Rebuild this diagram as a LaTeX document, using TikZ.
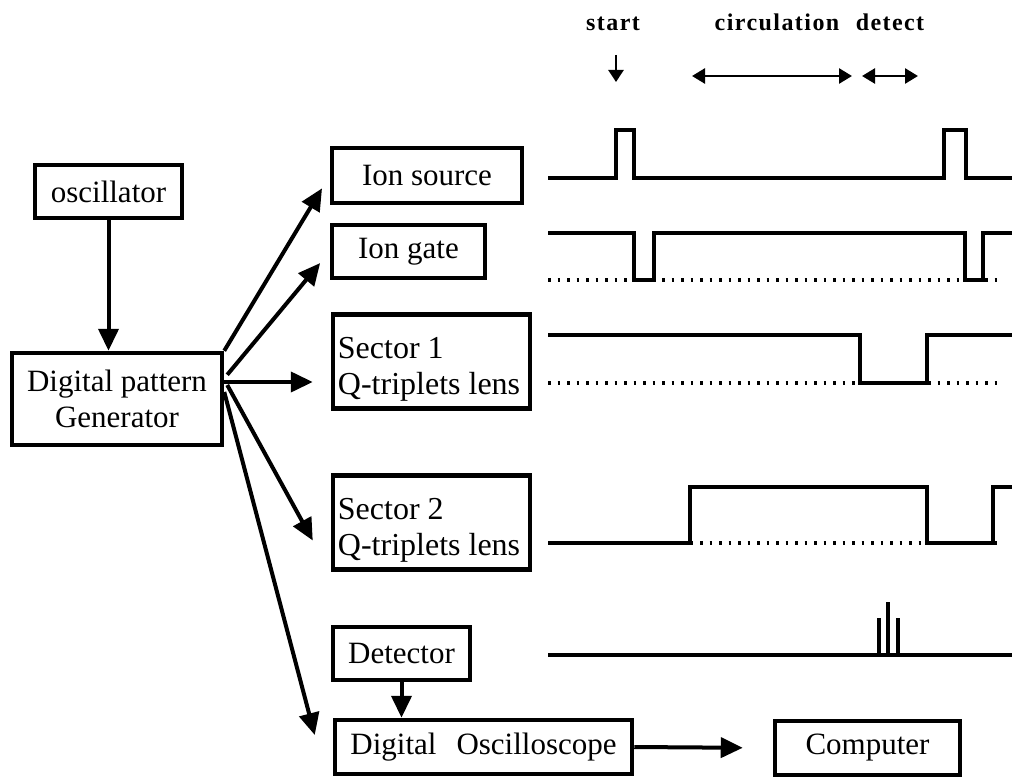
\documentclass[tikz,border=0pt]{standalone}
\usepackage{fontspec}
\setmainfont{Liberation Serif}
\newfontfamily\lblfont[LetterSpace=6]{Liberation Serif}
\usetikzlibrary{arrows.meta,calc}
\begin{document}
\begin{tikzpicture}[x=1pt,y=-1pt,
  box/.style={draw,line width=4.5pt,inner sep=0pt,font=\fontsize{31}{36}\selectfont},
  sbox/.style={draw,line width=4.5pt,inner sep=0pt,minimum width=197pt,minimum height=94pt},
  stext/.style={inner sep=0pt,anchor=west,align=left,font=\fontsize{32}{36}\selectfont},
  arr/.style={line width=4pt,-{Triangle[length=22pt,width=20pt]}},
  small/.style={line width=2.6pt},
  lbl/.style={font=\lblfont\bfseries\fontsize{24}{28}\selectfont,anchor=base,inner sep=0pt},
  wave/.style={line width=4.5pt},
  dots/.style={line width=3.5pt,dash pattern=on 2.5pt off 7pt}]
\useasboundingbox[fill=white] (0,0) rectangle (1017,784);

% boxes
\node[box,minimum width=147pt,minimum height=53pt] (osc) at (108.5,191.5) {oscillator};
\node[box,minimum width=210pt,minimum height=92pt,align=center] (dpg) at (117,399) {Digital pattern\\Generator};
\node[box,minimum width=190pt,minimum height=55pt] (ion) at (427,175.5) {Ion source};
\node[box,minimum width=153pt,minimum height=53pt] (gate) at (408.5,251.5) {Ion gate};
\node[sbox] (s1) at (431.5,361.5) {};
\node[stext] (s1t) at ($(s1.west)+(7,8)$) {Sector 1\\Q-triplets lens};
\node[sbox] (s2) at (431.5,522.5) {};
\node[stext] (s2t) at ($(s2.west)+(7,8)$) {Sector 2\\Q-triplets lens};
\node[box,minimum width=137pt,minimum height=53pt] (det) at (401.5,653.5) {Detector};
\node[box,minimum width=297pt,minimum height=54pt] (do) at (483.5,747) {Digital\hspace{20pt}Oscilloscope};
\node[box,minimum width=185pt,minimum height=54pt] (comp) at (867.5,748) {Computer};

% connectors
\draw[arr] (osc.south) -- (osc.south |- dpg.north);
\draw[arr,shorten >=15pt] (dpg.north east) -- (ion.west);
\draw[arr,shorten >=15pt] ($(dpg.north east)+(3,24)$) -- (gate.west);
\draw[arr] ($(dpg.east)+(0,-17)$) -- ($(s1.west)+(-18,20.5)$);
\draw[arr] ($(dpg.east)+(3,-14)$) -- ($(s2.west)+(-18,18)$);
\draw[arr] ($(dpg.east)+(0,-7)$) -- ($(do.west)+(-18,-12)$);
\draw[arr] (det.south) -- (det.south |- do.north);
\draw[arr,shorten >=30pt] (do.east) -- (comp.west);

% phase labels
\node[lbl] (lstart) at (613,31) {start};
\node[lbl] (lcirc) at (777,31) {circulation};
\node[lbl] (ldet) at (890,31) {detect};
\coordinate (sa) at (616,55);
\coordinate (sb) at (616,82);
\coordinate (ca) at (692,76);
\coordinate (cb) at (852,76);
\coordinate (da) at (862,76);
\coordinate (db) at (918,76);
\draw[small,-{Triangle[length=12pt,width=15pt]}] (sa) -- (sb);
\draw[small,{Triangle[length=13pt,width=15pt]}-{Triangle[length=13pt,width=15pt]}] (ca) -- (cb);
\draw[small,{Triangle[length=13pt,width=15pt]}-{Triangle[length=13pt,width=15pt]}] (da) -- (db);

% waveforms
\draw[wave] (548,178) -- (616,178) -- (616,130) -- (634,130) -- (634,178) -- (944,178) -- (944,130) -- (966,130) -- (966,178) -- (1012,178);

\draw[dots] (548,280) -- (1004,280);
\draw[wave] (548,233) -- (634,233) -- (634,280) -- (654,280) -- (654,233) -- (965,233) -- (965,280) -- (983,280) -- (983,233) -- (1012,233);

\draw[dots] (548,383) -- (1004,383);
\draw[wave] (548,335) -- (860,335) -- (860,383) -- (927,383) -- (927,335) -- (1012,335);

\draw[dots] (548,543) -- (1004,543);
\draw[wave] (548,543) -- (690,543) -- (690,487) -- (927,487) -- (927,543) -- (993,543) -- (993,487) -- (1012,487);

\draw[wave] (548,655) -- (1012,655);
\draw[wave] (879,655) -- (879,618);
\draw[wave] (888,655) -- (888,602);
\draw[wave] (898,655) -- (898,618);
\end{tikzpicture}
\end{document}
